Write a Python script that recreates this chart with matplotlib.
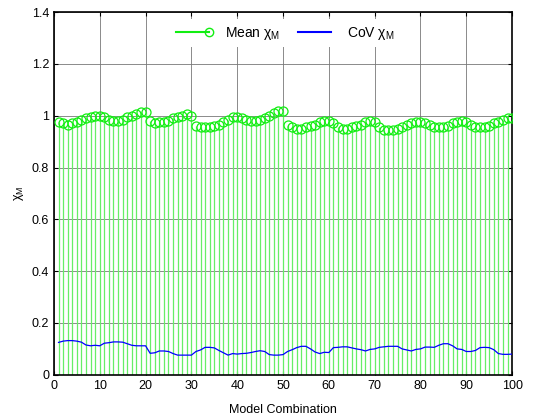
import matplotlib
matplotlib.use('Agg')
import matplotlib.pyplot as plt
import numpy as np
from matplotlib.lines import Line2D
from matplotlib.legend_handler import HandlerLine2D

plt.rcParams['font.family'] = ['Liberation Sans', 'DejaVu Sans']
plt.rcParams['font.size'] = 9

# model combinations 1..100
combos = list(range(1, 101))

mean_chi = [
    0.975, 0.97, 0.965, 0.97, 0.975, 0.985, 0.99, 0.995, 1.0, 1.0,
    0.995, 0.985, 0.98, 0.98, 0.985, 0.995, 1.0, 1.005, 1.015, 1.015,
    0.98, 0.97, 0.975, 0.975, 0.98, 0.99, 0.995, 1.0, 1.005, 1.0,
    0.96, 0.955, 0.955, 0.955, 0.96, 0.965, 0.975, 0.985, 0.995, 0.995,
    0.99, 0.985, 0.98, 0.98, 0.985, 0.99, 1.0, 1.01, 1.02, 1.02,
    0.965, 0.955, 0.95, 0.95, 0.955, 0.96, 0.965, 0.975, 0.98, 0.98,
    0.97, 0.955, 0.95, 0.95, 0.955, 0.96, 0.965, 0.975, 0.98, 0.975,
    0.955, 0.945, 0.945, 0.945, 0.95, 0.955, 0.965, 0.97, 0.975, 0.975,
    0.97, 0.965, 0.955, 0.955, 0.955, 0.96, 0.97, 0.975, 0.98, 0.975,
    0.965, 0.955, 0.955, 0.955, 0.96, 0.97, 0.975, 0.985, 0.99, 0.99,
]

cov_chi = [
    0.125, 0.13, 0.132, 0.132, 0.13, 0.126, 0.115, 0.112, 0.114, 0.112,
    0.122, 0.124, 0.127, 0.127, 0.126, 0.12, 0.114, 0.112, 0.112, 0.112,
    0.083, 0.085, 0.092, 0.092, 0.09, 0.082, 0.076, 0.076, 0.076, 0.076,
    0.09, 0.096, 0.106, 0.106, 0.104, 0.094, 0.085, 0.076, 0.082, 0.08,
    0.082, 0.083, 0.086, 0.09, 0.093, 0.09, 0.078, 0.076, 0.076, 0.078,
    0.09, 0.097, 0.105, 0.11, 0.11, 0.1, 0.088, 0.082, 0.087, 0.086,
    0.105, 0.106, 0.108, 0.108, 0.104, 0.1, 0.097, 0.092, 0.098, 0.1,
    0.106, 0.108, 0.11, 0.11, 0.11, 0.1, 0.096, 0.092, 0.098, 0.1,
    0.107, 0.107, 0.106, 0.114, 0.12, 0.12, 0.112, 0.1, 0.098, 0.09,
    0.09, 0.094, 0.105, 0.106, 0.105, 0.097, 0.082, 0.079, 0.079, 0.08,
]

green = '#11ee11'
blue = '#0000ff'


class RightMarkerHandler(HandlerLine2D):
    # legend glyph: line with the circle only at its right end
    def create_artists(self, legend, orig_handle, xdescent, ydescent,
                       width, height, fontsize, trans):
        arts = super().create_artists(legend, orig_handle, xdescent, ydescent,
                                      width, height, fontsize, trans)
        for a in arts:
            a.set_markevery([-1])
        return arts


fig = plt.figure(figsize=(5.34, 4.16), dpi=100)
ax = fig.add_axes([0.101, 0.099, 0.858, 0.872])

# stems + open circles
ax.vlines(combos, 0, mean_chi, color='#66ee66', lw=0.9, zorder=2)
ax.plot(combos, mean_chi, 'o', mfc='none', mec=green, ms=6.5, mew=0.9, zorder=3)
ax.plot(combos, cov_chi, color=blue, lw=0.9, zorder=4)

ax.set_xlim(0, 100)
ax.set_ylim(0, 1.4)
ax.set_xticks(np.arange(0, 101, 10))
ax.set_yticks(np.arange(0, 1.41, 0.2))
ax.set_yticklabels(['0', '0.2', '0.4', '0.6', '0.8', '1', '1.2', '1.4'])
ax.grid(True, color='#777777', lw=0.6, zorder=0)
ax.set_axisbelow(True)
ax.tick_params(direction='in', top=True, right=True, length=3, width=0.8)
for s in ax.spines.values():
    s.set_linewidth(1.2)

ax.set_xlabel('Model Combination', labelpad=9)
ax.set_ylabel('χ$_{\\mathregular{M}}$', labelpad=4)

mean_handle = Line2D([], [], color=green, marker='o', mfc='none', mec=green, ms=6)
cov_handle = Line2D([], [], color=blue)
leg = ax.legend([mean_handle, cov_handle],
                ['Mean χ$_{\\mathregular{M}}$', 'CoV χ$_{\\mathregular{M}}$'],
                handler_map={mean_handle: RightMarkerHandler(numpoints=2)},
                loc='upper center', ncol=2, frameon=True, framealpha=1,
                edgecolor='white', fontsize=10, numpoints=2,
                bbox_to_anchor=(0.5, 1.0), columnspacing=1.0,
                handlelength=3.0, handletextpad=0.8)
leg.get_frame().set_linewidth(0)

fig.savefig('out.png', dpi=100)
